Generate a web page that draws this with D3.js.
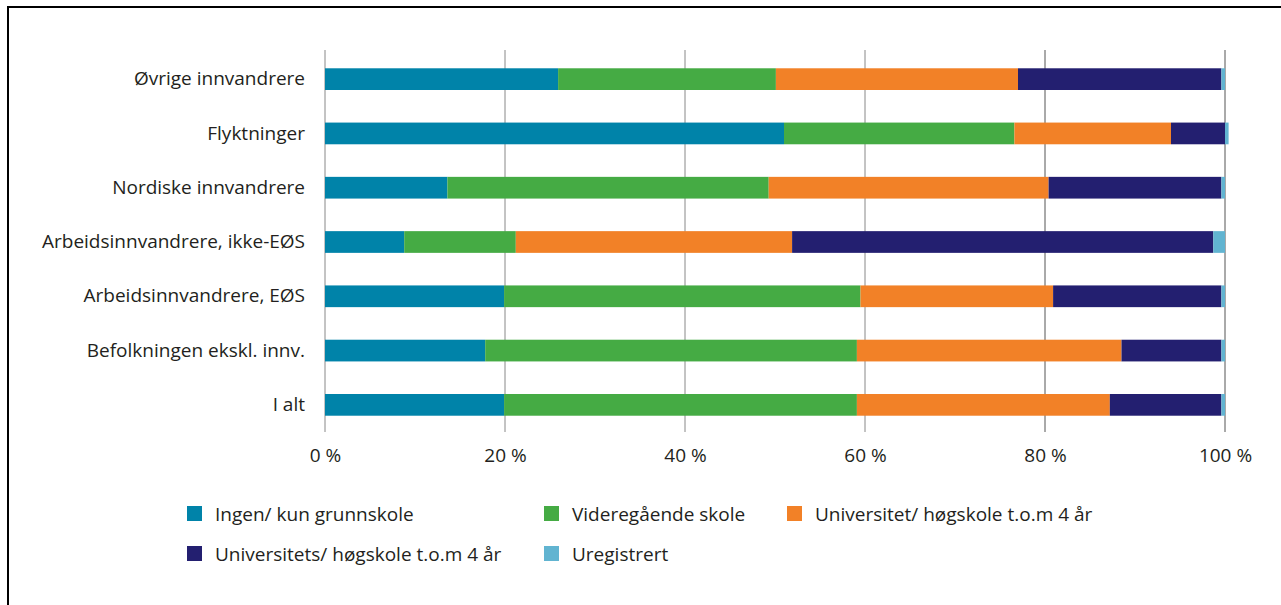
<!DOCTYPE html>
<html>
<head>
<meta charset="utf-8">
<script src="https://cdn.jsdelivr.net/npm/d3@7"></script>
<style>
  body { margin: 0; background: #fff; }
  text { font-family: "Open Sans", "Noto Sans", sans-serif; fill: #231f20; }
</style>
</head>
<body>
<div id="chart"></div>
<script>
// categories top to bottom
var categories = ["Øvrige innvandrere", "Flyktninger", "Nordiske innvandrere",
  "Arbeidsinnvandrere, ikke-EØS", "Arbeidsinnvandrere, EØS",
  "Befolkningen ekskl. innv.", "I alt"];
var seriesNames = ["Ingen/ kun grunnskole", "Videregående skole",
  "Universitet/ høgskole t.o.m 4 år", "Universitets/ høgskole t.o.m 4 år", "Uregistrert"];
var seriesColors = ["#0083a9", "#45ab44", "#f28127", "#231f70", "#61b4d1"];
// percent per series, one value per category
var grunnskole   = [25.9, 51.0, 13.6,  8.8, 19.9, 17.8, 19.9];
var videregaende = [24.2, 25.6, 35.7, 12.4, 39.6, 41.3, 39.2];
var uniKort      = [26.9, 17.4, 31.1, 30.7, 21.4, 29.4, 28.1];
var uniLang      = [22.6,  6.0, 19.2, 46.8, 18.7, 11.1, 12.4];
var uregistrert  = [ 0.4,  0.4,  0.4,  1.3,  0.4,  0.4,  0.4];
var xTicks = [0, 20, 40, 60, 80, 100];

var width = 1281, height = 605;
var margin = {top: 52, left: 325, right: 56, bottom: 173};
var fontSize = "19px";

var rows = categories.map(function(c, i) {
  return {cat: c, v0: grunnskole[i], v1: videregaende[i], v2: uniKort[i], v3: uniLang[i], v4: uregistrert[i]};
});
var keys = ["v0", "v1", "v2", "v3", "v4"];
var stacked = d3.stack().keys(keys)(rows);

var svg = d3.select("#chart").append("svg")
  .attr("width", width)
  .attr("height", height);

// frame (top and left)
svg.append("path")
  .attr("d", "M8,605 V7 H1281")
  .attr("fill", "none")
  .attr("stroke", "#000")
  .attr("stroke-width", 2);

var x = d3.scaleLinear().domain([0, 100]).range([margin.left, width - margin.right]);
var y = d3.scaleBand().domain(categories)
  .range([margin.top, height - margin.bottom])
  .paddingInner(0.6).paddingOuter(0.3);

// gridlines
svg.append("g").selectAll("line")
  .data(xTicks)
  .enter().append("line")
  .attr("x1", function(d) { return x(d); })
  .attr("x2", function(d) { return x(d); })
  .attr("y1", margin.top - 2)
  .attr("y2", height - margin.bottom)
  .attr("stroke", function(d) { return d == 100 || d == 80 ? "#555" : "#888"; })
  .attr("stroke-width", 1);

// bars
svg.append("g").selectAll("g")
  .data(stacked)
  .enter().append("g")
  .attr("fill", function(d, i) { return seriesColors[i]; })
  .selectAll("rect")
  .data(function(d) { return d; })
  .enter().append("rect")
  .attr("x", function(d) { return x(d[0]); })
  .attr("width", function(d) { return x(d[1]) - x(d[0]); })
  .attr("y", function(d) { return y(d.data.cat); })
  .attr("height", y.bandwidth());

// x axis labels
var xAxis = d3.axisBottom(x).tickValues(xTicks).tickSize(0).tickPadding(17)
  .tickFormat(function(d) { return d + " %"; });
var gx = svg.append("g")
  .attr("transform", "translate(0," + (height - margin.bottom) + ")")
  .call(xAxis);
gx.select(".domain").remove();
gx.selectAll("text")
  .style("font-family", "'Open Sans', sans-serif")
  .style("font-size", fontSize)
  .attr("fill", "#231f20");

// y axis labels
var yAxis = d3.axisLeft(y).tickSize(0).tickPadding(20);
var gy = svg.append("g")
  .attr("transform", "translate(" + margin.left + ",0)")
  .call(yAxis);
gy.select(".domain").remove();
gy.selectAll("text")
  .style("font-family", "'Open Sans', sans-serif")
  .style("font-size", fontSize)
  .attr("fill", "#231f20");

// legend
var legendPos = [[187, 506], [544, 506], [787, 506], [187, 546], [544, 546]];
var legend = svg.append("g").selectAll("g")
  .data(seriesNames)
  .enter().append("g")
  .attr("transform", function(d, i) { return "translate(" + legendPos[i][0] + "," + legendPos[i][1] + ")"; });
legend.append("rect")
  .attr("width", 15)
  .attr("height", 15)
  .attr("fill", function(d, i) { return seriesColors[i]; });
legend.append("text")
  .attr("x", 28)
  .attr("y", 8)
  .attr("dy", "0.35em")
  .style("font-size", fontSize)
  .text(function(d) { return d; });
</script>
</body>
</html>
